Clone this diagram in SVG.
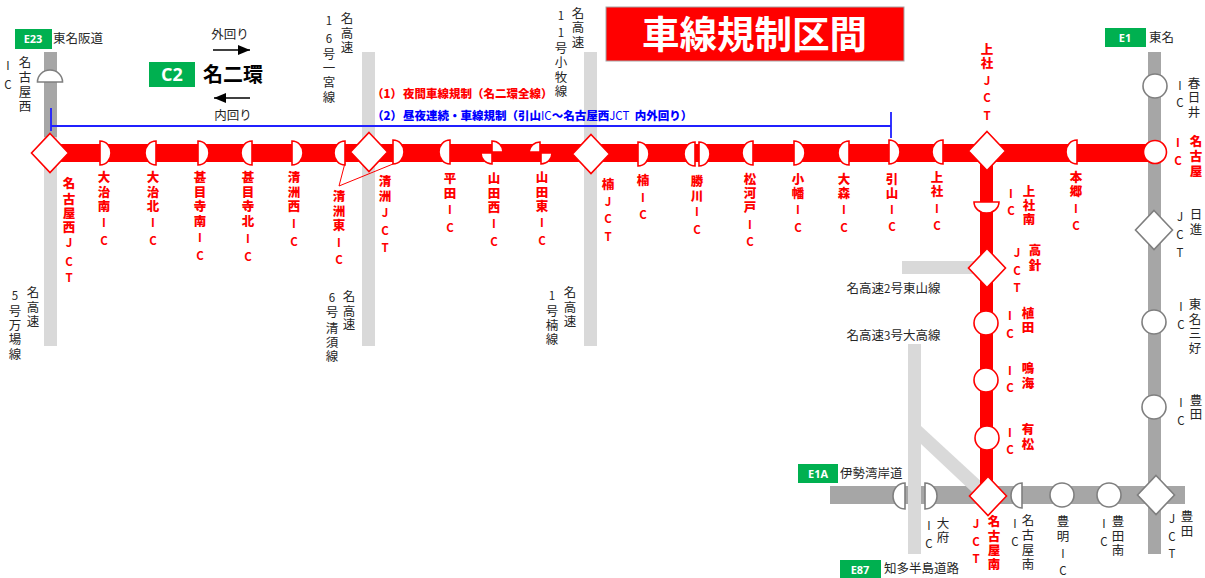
<svg xmlns="http://www.w3.org/2000/svg" xmlns:xlink="http://www.w3.org/1999/xlink" width="1205" height="578" viewBox="0 0 1205 578">
<style>
text{font-family:"Noto Sans CJK JP","Noto Sans",sans-serif;font-size:12.5px;fill:#262626;text-anchor:middle}
.a{font-size:11.5px}
.r{fill:#f00;font-weight:900;font-size:12.5px}
.r .a{font-weight:700}
.l{text-anchor:start}
.n{font-size:11.5px;white-space:pre}
.bl{fill:#00f}
.b{fill:#fff;font-weight:700;font-size:11px;font-family:"Open Sans","Noto Sans",sans-serif}
.mr{fill:#fff;stroke:#f00;stroke-width:1.6}
.mg{fill:#fff;stroke:#7f7f7f;stroke-width:1.6}
.box{fill:#00b050}
.dg{fill:#a6a6a6}.lg{fill:#d9d9d9}
</style>
<defs>
<path id="hr" d="M0-12A11 12 0 0 1 0 12Z"/>
<path id="hl" d="M0-12A11 12 0 0 0 0 12Z"/>
<polygon id="dia" points="0,-19.5 18.5,0 0,19.5 -18.5,0"/>
<circle id="cir" r="12"/>
<marker id="ah" markerWidth="12" markerHeight="10" refX="12" refY="5" orient="auto" markerUnits="userSpaceOnUse"><path d="M0 0L12 5L0 10Z" fill="#000"/></marker>
</defs>
<g id="connectors">
<rect class="lg" x="44" y="135" width="13" height="211"/>
<rect class="dg" x="44" y="52" width="13" height="85"/>
<rect class="lg" x="362" y="52" width="13" height="294"/>
<rect class="lg" x="584" y="52" width="13" height="294"/>
<rect class="dg" x="1148" y="52" width="13" height="502"/>
<rect class="dg" x="830" y="486" width="355" height="18"/>
<rect class="lg" x="902" y="261" width="72" height="13"/>
<rect class="lg" x="908" y="344" width="13" height="210"/>
<polygon class="lg" points="921,426 985,485 972,492 921,444"/>
<rect x="50" y="144" width="1105" height="18" fill="#f00"/>
<rect x="980" y="152" width="13" height="340" fill="#f00"/>
<path d="M51 108V131M51 126H891M891 112V138" fill="none" stroke="#2020ff" stroke-width="1.8"/>
<path d="M345 163L339 186L393 164" fill="none" stroke="#f00" stroke-width="1"/>
<line x1="213" y1="50" x2="250" y2="50" stroke="#000" stroke-width="1.3" marker-end="url(#ah)"/>
<line x1="250" y1="98" x2="214" y2="98" stroke="#000" stroke-width="1.3" marker-end="url(#ah)"/>
</g>
<g id="title"><rect x="606" y="7" width="298" height="54" fill="#f00" stroke="#a6a6a6"/><text x="754.500" y="48" style="fill:#fff;font-size:37.500px;font-weight:700">車線規制区間</text></g>
<g id="legend-c2"><rect class="box" x="149" y="62" width="46" height="25"/><text class="b" x="172" y="81" style="font-size:18px">C2</text><text x="233" y="82" style="fill:#000;font-weight:700;font-size:20px">名二環</text><text x="230" y="39">外回り</text><text x="233" y="120">内回り</text></g>
<g id="notes">
<text class="r l n" x="372" y="98">（1）</text><text class="r l n" x="403" y="98">夜間車線規制（名二環全線）</text>
<text class="r l n bl" x="372" y="120">（2）</text><text class="r l n bl" x="403" y="120">昼夜連続・車線規制（引山<tspan font-weight="400">IC</tspan>～名古屋西<tspan font-weight="400">JCT</tspan>  内外回り）</text>
</g>
<g id="e23"><rect class="box" x="15" y="29" width="37" height="20"/><text class="b" x="33" y="43">E23</text><text class="l" x="53" y="43">東名阪道</text></g>
<g id="e1"><rect class="box" x="1105" y="28" width="41" height="19"/><text class="b" x="1125" y="42">E1</text><text class="l" x="1149" y="42">東名</text></g>
<g id="e1a"><rect class="box" x="798" y="464" width="40" height="19"/><text class="b" x="818" y="478">E1A</text><text class="l" x="840" y="478">伊勢湾岸道</text></g>
<g id="e87"><rect class="box" x="840" y="560" width="41" height="18"/><text class="b" x="860" y="574">E87</text><text class="l" x="884" y="573">知多半島道路</text></g>
<g id="nagoyanishi-ic"><path class="mg" d="M37.500 82A12.500 12 0 0 1 62.500 82Z"/><text x="25 25 25 25 8 8" y="67 82 97 111 70 89">名古屋西<tspan class="a">IC</tspan></text></g>
<g id="line16"><text x="347 347 347 329 329 329 329 329 329" y="23 38 52 25 43 59 73 87 102">名高速<tspan class="a">16</tspan>号一宮線</text></g>
<g id="line11"><text x="578 578 578 561 561 561 561 561 561 561" y="18 32 47 20 37 53 67 82 96">名高速<tspan class="a">11</tspan>号小牧線</text></g>
<g id="line5"><text x="33 33 33 15 15 15 15 15" y="297 312 326 300 316 330 344 359">名高速<tspan class="a">5</tspan>号万場線</text></g>
<g id="line6"><text x="349 349 349 332 332 332 332 332" y="301 316 329 302 317 333 347 361">名高速<tspan class="a">6</tspan>号清須線</text></g>
<g id="line1"><text x="570 570 570 552 552 552 552" y="297 312 326 300 316 330 344">名高速<tspan class="a">1</tspan>号楠線</text></g>
<g id="line2"><text x="893.500" y="293">名高速<tspan class="a">2</tspan>号東山線</text></g>
<g id="line3"><text x="893.500" y="340">名高速<tspan class="a">3</tspan>号大高線</text></g>
<g id="n1"><use href="#dia" class="mr" x="50" y="153"/><text class="r" x="69 69 69 69 69 69 69" y="188 204 218 232 247 266 282">名古屋西<tspan class="a">JCT</tspan></text></g>
<g id="n2"><use href="#hr" class="mr" x="100" y="153"/><text class="r" x="104 104 104 104 104" y="182 197 211 227 245">大治南<tspan class="a">IC</tspan></text></g>
<g id="n3"><use href="#hl" class="mr" x="156" y="153"/><text class="r" x="153 153 153 153 153" y="182 197 211 227 245">大治北<tspan class="a">IC</tspan></text></g>
<g id="n4"><use href="#hr" class="mr" x="198" y="153"/><text class="r" x="200 200 200 200 200 200" y="182 197 211 226 242 260">甚目寺南<tspan class="a">IC</tspan></text></g>
<g id="n5"><use href="#hl" class="mr" x="252" y="153"/><text class="r" x="248 248 248 248 248 248" y="182 197 211 226 243 261">甚目寺北<tspan class="a">IC</tspan></text></g>
<g id="n6"><use href="#hr" class="mr" x="292" y="153"/><text class="r" x="294 294 294 294 294" y="182 197 211 228 246">清洲西<tspan class="a">IC</tspan></text></g>
<g id="n7"><use href="#hl" class="mr" x="345" y="153"/><text class="r" x="339 339 339 339 339" y="201 216 230 247 264">清洲東<tspan class="a">IC</tspan></text></g>
<g id="n8"><use href="#dia" class="mr" x="369" y="152"/><text class="r" x="385 385 385 385 385" y="186 201 217 235 252">清洲<tspan class="a">JCT</tspan></text></g>
<g id="n9"><use href="#hr" class="mr" x="393" y="152"/></g>
<g id="n10"><use href="#hl" class="mr" x="450" y="152"/><text class="r" x="450 450 450 450" y="183 198 214 232">平田<tspan class="a">IC</tspan></text></g>
<g id="n11"><path class="mr" d="M492 141A11 11 0 0 1 503 152H492ZM492 164A11 11 0 0 1 481 153H492Z"/><text class="r" x="494 494 494 494 494" y="183 198 212 228 246">山田西<tspan class="a">IC</tspan></text></g>
<g id="n12"><path class="mr" d="M540 142A11 11 0 0 0 529 152H540ZM541 164A11 11 0 0 0 552 153H541Z"/><text class="r" x="542 542 542 542 542" y="182 197 211 227 245">山田東<tspan class="a">IC</tspan></text></g>
<g id="n13"><use href="#dia" class="mr" x="591" y="154"/><text class="r" x="608 608 608 608" y="189 206 223 241">楠<tspan class="a">JCT</tspan></text></g>
<g id="n14"><use href="#hr" class="mr" x="638" y="154"/><text class="r" x="643 643 643" y="185 202 219">楠<tspan class="a">IC</tspan></text></g>
<g id="n15"><use href="#hl" class="mr" x="695" y="154"/><use href="#hr" class="mr" x="699" y="154"/><text class="r" x="697 697 697 697" y="186 201 216 234">勝川<tspan class="a">IC</tspan></text></g>
<g id="n16"><use href="#hl" class="mr" x="753" y="153"/><text class="r" x="750 750 750 750 750" y="184 198 212 229 246">松河戸<tspan class="a">IC</tspan></text></g>
<g id="n17"><use href="#hr" class="mr" x="794" y="153"/><text class="r" x="798 798 798 798" y="184 198 214 232">小幡<tspan class="a">IC</tspan></text></g>
<g id="n18"><use href="#hl" class="mr" x="849" y="153"/><text class="r" x="844 844 844 844" y="184 198 214 232">大森<tspan class="a">IC</tspan></text></g>
<g id="n19"><use href="#hr" class="mr" x="889" y="152"/><text class="r" x="892 892 892 892" y="184 198 214 231">引山<tspan class="a">IC</tspan></text></g>
<g id="n20"><use href="#hl" class="mr" x="943" y="152"/><text class="r" x="937 937 937 937" y="182 196 213 230">上社<tspan class="a">IC</tspan></text></g>
<g id="n21"><use href="#dia" class="mr" x="987" y="151"/><text class="r" x="987 987 987 987 987" y="54 68 85 102 120">上社<tspan class="a">JCT</tspan></text></g>
<g id="n22"><use href="#hl" class="mr" x="1077" y="152"/><text class="r" x="1076 1076 1076 1076" y="182 196 213 230">本郷<tspan class="a">IC</tspan></text></g>
<g id="n23"><circle class="mr" cx="1155" cy="152" r="11.500"/><text class="r" x="1196 1196 1196 1178 1178" y="146 161 176 147 165">名古屋<tspan class="a">IC</tspan></text></g>
<g id="n24"><path class="mr" d="M974 202H999A12.500 11 0 0 1 974 202Z"/><text class="r" x="1029 1029 1029 1011 1011" y="196 210 224 198 215">上社南<tspan class="a">IC</tspan></text></g>
<g id="n25"><use href="#dia" class="mr" x="987" y="268"/><text class="r" x="1035 1035 1017 1017 1017" y="255 270 257 275 292">高針<tspan class="a">JCT</tspan></text></g>
<g id="n26"><use href="#cir" class="mr" x="986" y="323"/><text class="r" x="1028 1028 1010 1010" y="318 332 320 338">植田<tspan class="a">IC</tspan></text></g>
<g id="n27"><use href="#cir" class="mr" x="986" y="380"/><text class="r" x="1028 1028 1010 1010" y="373 388 375 392">鳴海<tspan class="a">IC</tspan></text></g>
<g id="n28"><use href="#cir" class="mr" x="987" y="438"/><text class="r" x="1028 1028 1010 1010" y="434 449 437 454">有松<tspan class="a">IC</tspan></text></g>
<g id="n29"><use href="#dia" class="mr" x="988" y="496"/><text class="r" x="994 994 994 994 976 976 976" y="526 541 555 569 528 546 563">名古屋南<tspan class="a">JCT</tspan></text></g>
<g id="n30"><path class="mg" d="M905 483A12 13 0 0 0 905 509ZM925 483A12 13 0 0 1 925 509Z"/><text x="943 943 929 929" y="528 542 530 548">大府<tspan class="a">IC</tspan></text></g>
<g id="n31"><path class="mg" d="M1022 483A11 12.500 0 0 0 1022 508Z"/><text x="1028 1028 1028 1028 1015 1015" y="525 540 555 569 528 546">名古屋南<tspan class="a">IC</tspan></text></g>
<g id="n32"><use href="#cir" class="mg" x="1062" y="495"/><text x="1063 1063 1063 1063" y="526 541 558 575">豊明<tspan class="a">IC</tspan></text></g>
<g id="n33"><use href="#cir" class="mg" x="1109" y="495"/><text x="1118 1118 1118 1104 1104" y="526 541 555 528 546">豊田南<tspan class="a">IC</tspan></text></g>
<g id="n34"><use href="#dia" class="mg" x="1156" y="495"/><text x="1187 1187 1172 1172 1172" y="521 536 523 541 558">豊田<tspan class="a">JCT</tspan></text></g>
<g id="n35"><use href="#cir" class="mg" x="1155" y="86"/><text x="1194 1194 1194 1180 1180" y="88 102 117 90 107">春日井<tspan class="a">IC</tspan></text></g>
<g id="n36"><use href="#dia" class="mg" x="1154" y="230"/><text x="1196 1196 1180 1180 1180" y="219 234 221 239 257">日進<tspan class="a">JCT</tspan></text></g>
<g id="n37"><use href="#cir" class="mg" x="1154" y="322"/><text x="1195 1195 1195 1195 1181 1181" y="309 324 338 353 311 329">東名三好<tspan class="a">IC</tspan></text></g>
<g id="n38"><use href="#cir" class="mg" x="1154" y="407"/><text x="1196 1196 1181 1181" y="405 419 407 425">豊田<tspan class="a">IC</tspan></text></g>
</svg>
